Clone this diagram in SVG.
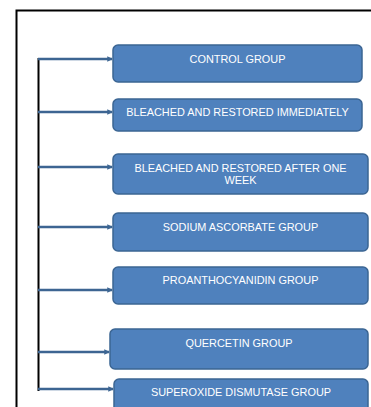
<svg xmlns="http://www.w3.org/2000/svg" width="371" height="407" viewBox="0 0 371 407">
<style>
.box{fill:#4F81BD;stroke:#3B6593;stroke-width:1.5}
.lbl{fill:#FFFFFF;font-family:"Liberation Sans",Arial,sans-serif;font-size:10.9px;text-anchor:middle}
.conn{stroke:#3D6592;stroke-width:2.6;fill:none}
</style>
<defs>
<marker id="arr" viewBox="0 0 6 6" refX="5" refY="3" markerWidth="2.2" markerHeight="2.2" orient="auto" markerUnits="strokeWidth">
<path d="M0,0 L6,3 L0,6 z" fill="#3D6592"/>
</marker>
</defs>
<rect width="371" height="407" fill="#FFFFFF"/>
<g id="frame">
<path d="M16.5,407 V10.5 H371" fill="none" stroke="#000000" stroke-width="2"/>
</g>
<g id="connectors">
<line x1="38.5" y1="58" x2="38.5" y2="391" stroke="#000000" stroke-width="2"/>
<line class="conn" x1="38" y1="59" x2="112" y2="59" marker-end="url(#arr)"/>
<line class="conn" x1="38" y1="112" x2="112" y2="112" marker-end="url(#arr)"/>
<line class="conn" x1="38" y1="167" x2="112" y2="167" marker-end="url(#arr)"/>
<line class="conn" x1="38" y1="227" x2="112" y2="227" marker-end="url(#arr)"/>
<line class="conn" x1="38" y1="290" x2="112" y2="290" marker-end="url(#arr)"/>
<line class="conn" x1="38" y1="352" x2="109" y2="352" marker-end="url(#arr)"/>
<line class="conn" x1="38" y1="389" x2="113" y2="389" marker-end="url(#arr)"/>
</g>
<g id="n1">
<rect class="box" x="113" y="45" width="249" height="37" rx="5"/>
<text class="lbl" x="237.5" y="63">CONTROL GROUP</text>
</g>
<g id="n2">
<rect class="box" x="113" y="99" width="249" height="32" rx="5"/>
<text class="lbl" x="237.5" y="116">BLEACHED AND RESTORED IMMEDIATELY</text>
</g>
<g id="n3">
<rect class="box" x="113" y="154" width="255" height="40" rx="5"/>
<text class="lbl" x="240.5" y="171.5">BLEACHED AND RESTORED AFTER ONE</text>
<text class="lbl" x="240.5" y="184.3">WEEK</text>
</g>
<g id="n4">
<rect class="box" x="113" y="213" width="255" height="38" rx="5"/>
<text class="lbl" x="240.5" y="231">SODIUM ASCORBATE GROUP</text>
</g>
<g id="n5">
<rect class="box" x="113" y="267" width="255" height="37" rx="5"/>
<text class="lbl" x="240.5" y="284">PROANTHOCYANIDIN GROUP</text>
</g>
<g id="n6">
<rect class="box" x="110" y="329" width="258" height="40" rx="5"/>
<text class="lbl" x="239" y="347">QUERCETIN GROUP</text>
</g>
<g id="n7">
<rect class="box" x="114" y="379" width="254" height="36" rx="5"/>
<text class="lbl" x="241" y="396">SUPEROXIDE DISMUTASE GROUP</text>
</g>
</svg>
